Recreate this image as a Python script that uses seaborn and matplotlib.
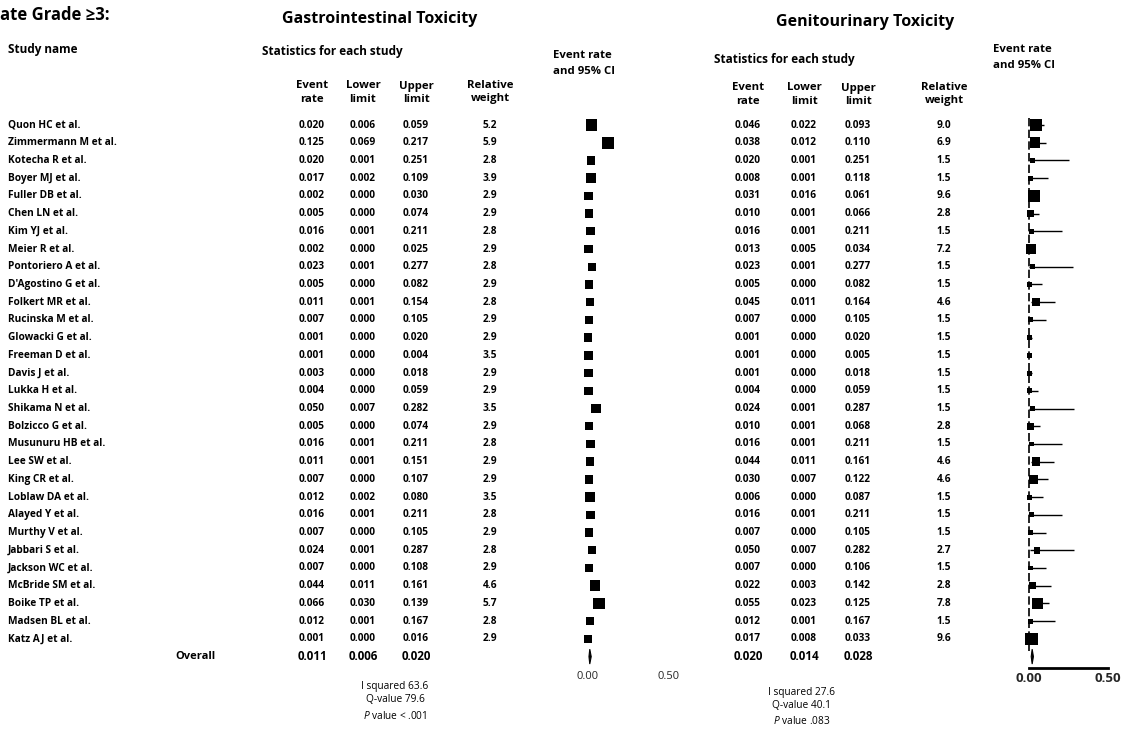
import numpy as np
import pandas as pd
import matplotlib
matplotlib.use("Agg")
import matplotlib.pyplot as plt
import seaborn as sns

# ---------------- data ----------------
studies = ["Quon HC et al.", "Zimmermann M et al.", "Kotecha R et al.", "Boyer MJ et al.",
           "Fuller DB et al.", "Chen LN et al.", "Kim YJ et al.", "Meier R et al.",
           "Pontoriero A et al.", "D'Agostino G et al.", "Folkert MR et al.", "Rucinska M et al.",
           "Glowacki G et al.", "Freeman D et al.", "Davis J et al.", "Lukka H et al.",
           "Shikama N et al.", "Bolzicco G et al.", "Musunuru HB et al.", "Lee SW et al.",
           "King CR et al.", "Loblaw DA et al.", "Alayed Y et al.", "Murthy V et al.",
           "Jabbari S et al.", "Jackson WC et al.", "McBride SM et al.", "Boike TP et al.",
           "Madsen BL et al.", "Katz AJ et al."]

gi_rate = [0.020, 0.125, 0.020, 0.017, 0.002, 0.005, 0.016, 0.002, 0.023, 0.005,
           0.011, 0.007, 0.001, 0.001, 0.003, 0.004, 0.050, 0.005, 0.016, 0.011,
           0.007, 0.012, 0.016, 0.007, 0.024, 0.007, 0.044, 0.066, 0.012, 0.001]
gi_low = [0.006, 0.069, 0.001, 0.002, 0.000, 0.000, 0.001, 0.000, 0.001, 0.000,
          0.001, 0.000, 0.000, 0.000, 0.000, 0.000, 0.007, 0.000, 0.001, 0.001,
          0.000, 0.002, 0.001, 0.000, 0.001, 0.000, 0.011, 0.030, 0.001, 0.000]
gi_up = [0.059, 0.217, 0.251, 0.109, 0.030, 0.074, 0.211, 0.025, 0.277, 0.082,
         0.154, 0.105, 0.020, 0.004, 0.018, 0.059, 0.282, 0.074, 0.211, 0.151,
         0.107, 0.080, 0.211, 0.105, 0.287, 0.108, 0.161, 0.139, 0.167, 0.016]
gi_wt = [5.2, 5.9, 2.8, 3.9, 2.9, 2.9, 2.8, 2.9, 2.8, 2.9,
         2.8, 2.9, 2.9, 3.5, 2.9, 2.9, 3.5, 2.9, 2.8, 2.9,
         2.9, 3.5, 2.8, 2.9, 2.8, 2.9, 4.6, 5.7, 2.8, 2.9]
gi_overall = [0.011, 0.006, 0.020]
gi_stats = ["I squared 63.6", "Q-value 79.6", r"$\it{P}$ value < .001"]

gu_rate = [0.046, 0.038, 0.020, 0.008, 0.031, 0.010, 0.016, 0.013, 0.023, 0.005,
           0.045, 0.007, 0.001, 0.001, 0.001, 0.004, 0.024, 0.010, 0.016, 0.044,
           0.030, 0.006, 0.016, 0.007, 0.050, 0.007, 0.022, 0.055, 0.012, 0.017]
gu_low = [0.022, 0.012, 0.001, 0.001, 0.016, 0.001, 0.001, 0.005, 0.001, 0.000,
          0.011, 0.000, 0.000, 0.000, 0.000, 0.000, 0.001, 0.001, 0.001, 0.011,
          0.007, 0.000, 0.001, 0.000, 0.007, 0.000, 0.003, 0.023, 0.001, 0.008]
gu_up = [0.093, 0.110, 0.251, 0.118, 0.061, 0.066, 0.211, 0.034, 0.277, 0.082,
         0.164, 0.105, 0.020, 0.005, 0.018, 0.059, 0.287, 0.068, 0.211, 0.161,
         0.122, 0.087, 0.211, 0.105, 0.282, 0.106, 0.142, 0.125, 0.167, 0.033]
gu_wt = [9.0, 6.9, 1.5, 1.5, 9.6, 2.8, 1.5, 7.2, 1.5, 1.5,
         4.6, 1.5, 1.5, 1.5, 1.5, 1.5, 1.5, 2.8, 1.5, 4.6,
         4.6, 1.5, 1.5, 1.5, 2.7, 1.5, 2.8, 7.8, 1.5, 9.6]
gu_overall = [0.020, 0.014, 0.028]
gu_stats = ["I squared 27.6", "Q-value 40.1", r"$\it{P}$ value .083"]

axis_ticks = [0.0, 0.5]
axis_labels = ["0.00", "0.50"]

# ---------------- style ----------------
sns.set_theme(style="white")
plt.rcParams['font.family'] = ['Open Sans', 'DejaVu Sans']
plt.rcParams['mathtext.fontset'] = 'custom'
plt.rcParams['mathtext.it'] = 'Open Sans:italic'

W, H = 1129, 732
fig = plt.figure(figsize=(W / 100, H / 100), dpi=100)
fig.patch.set_facecolor('white')
bg = fig.add_axes([0, 0, 1, 1])
bg.set_xlim(0, W)
bg.set_ylim(H, 0)
bg.axis('off')

ROW0, DY = 125, 17.72
n = len(studies)
OV = n  # overall row index

def ry(i):
    return ROW0 + i * DY

def txt(x, y, s, size=7.5, ha='center', weight='bold', **kw):
    bg.text(x, y, s, ha=ha, va='center', fontsize=size, fontweight=weight, color='black', **kw)

# titles / headers
txt(0, 15, "ate Grade ≥3:", size=12, ha='left')
txt(380, 19, "Gastrointestinal Toxicity", size=11.5)
txt(865, 22, "Genitourinary Toxicity", size=11.5)
txt(8, 50, "Study name", size=8.5, ha='left')

panels = [
    dict(rate=gi_rate, low=gi_low, up=gi_up, wt=gi_wt, ov=gi_overall, stats=gi_stats,
         cols=(312, 363, 416, 490), stat_hdr=(262, 52), ci_hdr=(553, 55, 71), hdr_y=(86, 99),
         stat_x=395, stat_y=(686, 700, 716), x0=588, scale=161, sizes=126.5, gu=False),
    dict(rate=gu_rate, low=gu_low, up=gu_up, wt=gu_wt, ov=gu_overall, stats=gu_stats,
         cols=(748, 804, 858, 944), stat_hdr=(714, 60), ci_hdr=(993, 50, 66), hdr_y=(88, 101),
         stat_x=802, stat_y=(692, 706, 721), x0=1029, scale=158, sizes=82.9, gu=True),
]

for i, name in enumerate(studies):
    txt(8, ry(i), name, size=7.3, ha='left')
txt(215, ry(OV), "Overall", size=8, ha='right')

for p in panels:
    ce, cl, cu, cw = p['cols']
    txt(p['stat_hdr'][0], p['stat_hdr'][1], "Statistics for each study", size=8.5, ha='left')
    y1, y2 = p['hdr_y']
    for x, a, b in [(ce, "Event", "rate"), (cl, "Lower", "limit"), (cu, "Upper", "limit"),
                    (cw, "Relative", "weight")]:
        txt(x, y1, a, size=8.2)
        txt(x, y2, b, size=8.2)
    hx, hy1, hy2 = p['ci_hdr']
    txt(hx, hy1, "Event rate", size=8.2, ha='left')
    txt(hx, hy2, "and 95% CI", size=8.2, ha='left')
    for i in range(n):
        txt(ce, ry(i), f"{p['rate'][i]:.3f}", size=7.3)
        txt(cl, ry(i), f"{p['low'][i]:.3f}", size=7.3)
        txt(cu, ry(i), f"{p['up'][i]:.3f}", size=7.3)
        txt(cw, ry(i), f"{p['wt'][i]:.1f}", size=7.3)
    for x, v in zip((ce, cl, cu), p['ov']):
        txt(x, ry(OV), f"{v:.3f}", size=8.4)
    for s, y in zip(p['stats'], p['stat_y']):
        txt(p['stat_x'], y, s, size=7.3, weight='normal')

    # forest axes
    top, bottom = 110, 668
    left = p['x0'] - 0.1 * p['scale']
    width = 0.7 * p['scale']
    ax = fig.add_axes([left / W, 1 - bottom / H, width / W, (bottom - top) / H])
    ax.patch.set_alpha(0)
    df = pd.DataFrame({'row': np.arange(n), 'rate': p['rate'], 'low': p['low'],
                       'up': p['up'], 'wt': p['wt']})
    if p['gu']:
        ax.hlines(df['row'], df['low'], df['up'], color='black', lw=1.0)
        ax.vlines(0, -0.4, n - 0.3, color='black', lw=1.2, linestyles=(0, (5, 2)))
    sns.scatterplot(data=df, x='rate', y='row', size='wt', sizes=(0, p['sizes']),
                    size_norm=(0, 10), marker='s', color='black', linewidth=0,
                    legend=False, ax=ax, clip_on=False)
    est, lo, up = p['ov']
    ax.fill([lo, est, up, est], [OV, OV - 0.42, OV, OV + 0.42], color='black', lw=0.8,
            edgecolor='black')
    ax.set_xlim(-0.1, 0.6)
    ax.set_ylim((bottom - ROW0) / DY, (top - ROW0) / DY)
    ax.set_xlabel('')
    ax.set_ylabel('')
    ax.set_yticks([])
    ax.set_xticks(axis_ticks)
    ax.set_xticklabels(axis_labels)
    for sp in ax.spines.values():
        sp.set_visible(False)
    if p['gu']:
        ax.spines['bottom'].set_visible(True)
        ax.spines['bottom'].set_bounds(0, 0.5)
        ax.spines['bottom'].set_linewidth(2)
        ax.spines['bottom'].set_color('black')
        ax.tick_params(axis='x', length=0, pad=3, labelsize=9.5)
        for t in ax.get_xticklabels():
            t.set_fontweight('bold')
    else:
        ax.tick_params(axis='x', length=0, pad=2, labelsize=8)

fig.savefig("out.png", dpi=100, facecolor='white')
